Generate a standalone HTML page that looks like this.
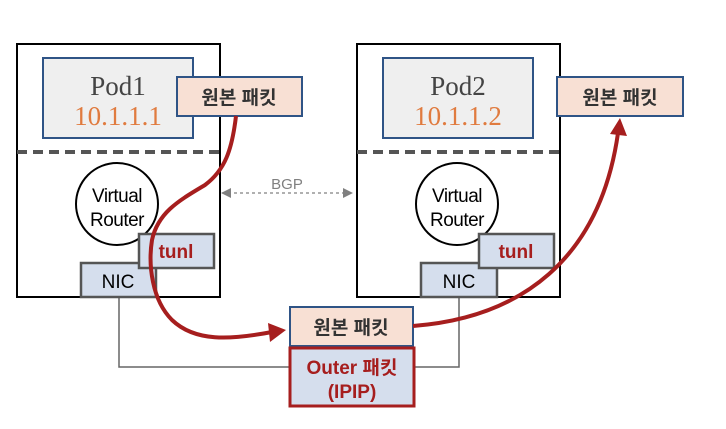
<!DOCTYPE html>
<html><head><meta charset="utf-8"><style>
body{margin:0;background:#fff;width:726px;height:424px;overflow:hidden}
svg text{font-family:"Liberation Sans","Noto Sans CJK KR",sans-serif}
</style></head><body>
<svg width="726" height="424" xmlns="http://www.w3.org/2000/svg">
<defs>
<marker id="g" markerWidth="10" markerHeight="10" refX="9" refY="5" orient="auto-start-reverse" markerUnits="userSpaceOnUse"><path d="M0,0 L10,5 L0,10z" fill="#808080"/></marker>
</defs>
<polyline points="119,297 119,367 459,367 459,297" fill="none" stroke="#666" stroke-width="1.5"/>
<rect x="17" y="44" width="203" height="253" fill="#fff" stroke="#000" stroke-width="2"/>
<rect x="357" y="44" width="203" height="253" fill="#fff" stroke="#000" stroke-width="2"/>
<line x1="17" y1="152" x2="220" y2="152" stroke="#555" stroke-width="4" stroke-dasharray="10,6"/>
<line x1="357" y1="152" x2="560" y2="152" stroke="#555" stroke-width="4" stroke-dasharray="10,6"/>
<rect x="43" y="58" width="150" height="80" fill="#efefef" stroke="#2f5486" stroke-width="2"/>
<text x="118" y="95" font-size="27" fill="#444" text-anchor="middle" style="font-family:'Liberation Serif',serif">Pod1</text>
<text x="118" y="125" font-size="27" fill="#e07b3f" text-anchor="middle" style="font-family:'Liberation Serif',serif">10.1.1.1</text>
<rect x="383" y="58" width="150" height="80" fill="#efefef" stroke="#2f5486" stroke-width="2"/>
<text x="458" y="95" font-size="27" fill="#444" text-anchor="middle" style="font-family:'Liberation Serif',serif">Pod2</text>
<text x="458" y="125" font-size="27" fill="#e07b3f" text-anchor="middle" style="font-family:'Liberation Serif',serif">10.1.1.2</text>
<rect x="177" y="77" width="125" height="39" fill="#f8e0d4" stroke="#2f5486" stroke-width="2"/>
<text x="239" y="104" font-size="19" font-weight="bold" fill="#333" text-anchor="middle">원본 패킷</text>
<rect x="557" y="77" width="126" height="39" fill="#f8e0d4" stroke="#2f5486" stroke-width="2"/>
<text x="620" y="104" font-size="19" font-weight="bold" fill="#333" text-anchor="middle">원본 패킷</text>
<circle cx="117" cy="204" r="41" fill="#fff" stroke="#000" stroke-width="2"/>
<text x="117" y="202" font-size="19" text-anchor="middle" letter-spacing="-0.5">Virtual</text>
<text x="117" y="226" font-size="19" text-anchor="middle" letter-spacing="-0.5">Router</text>
<circle cx="457" cy="204" r="41" fill="#fff" stroke="#000" stroke-width="2"/>
<text x="457" y="202" font-size="19" text-anchor="middle" letter-spacing="-0.5">Virtual</text>
<text x="457" y="226" font-size="19" text-anchor="middle" letter-spacing="-0.5">Router</text>
<rect x="81" y="263" width="75" height="34" fill="#d5deed" stroke="#555" stroke-width="2.5"/>
<text x="118" y="288" font-size="19" text-anchor="middle">NIC</text>
<rect x="421" y="263" width="76" height="34" fill="#d5deed" stroke="#555" stroke-width="2.5"/>
<text x="459" y="288" font-size="19" text-anchor="middle">NIC</text>
<rect x="139" y="234" width="75" height="34" fill="#d5deed" stroke="#555" stroke-width="2.5"/>
<text x="176" y="258" font-size="19" font-weight="bold" fill="#a61e1e" text-anchor="middle">tunl</text>
<rect x="479" y="234" width="75" height="34" fill="#d5deed" stroke="#555" stroke-width="2.5"/>
<text x="516" y="258" font-size="19" font-weight="bold" fill="#a61e1e" text-anchor="middle">tunl</text>
<line x1="222" y1="193" x2="352" y2="193" stroke="#808080" stroke-width="1.2" stroke-dasharray="3,3" marker-start="url(#g)" marker-end="url(#g)"/>
<text x="287" y="189" font-size="15" fill="#808080" text-anchor="middle">BGP</text>
<rect x="290" y="307" width="123" height="39" fill="#f8e0d4" stroke="#2f5486" stroke-width="2"/>
<text x="351" y="334" font-size="19" font-weight="bold" fill="#333" text-anchor="middle">원본 패킷</text>
<rect x="290" y="348" width="124" height="58" fill="#d5deed" stroke="#a61e1e" stroke-width="3"/>
<text x="352" y="374" font-size="19" font-weight="bold" fill="#a61e1e" text-anchor="middle">Outer 패킷</text>
<text x="352" y="398" font-size="19" font-weight="bold" fill="#a61e1e" text-anchor="middle">(IPIP)</text>
<path d="M236,116 C232,150 225,170 205,185 C180,200 158,212 152,240 C148,265 152,300 172,320 C195,342 230,340 272,332" fill="none" stroke="#a61e1e" stroke-width="4"/>
<path d="M268,323 L286,330 L270,342 Z" fill="#a61e1e"/>
<path d="M413,326 C520,318 600,260 618,133" fill="none" stroke="#a61e1e" stroke-width="4"/>
<path d="M610,134 L620,118 L627,136 Z" fill="#a61e1e"/>
</svg>
</body></html>
